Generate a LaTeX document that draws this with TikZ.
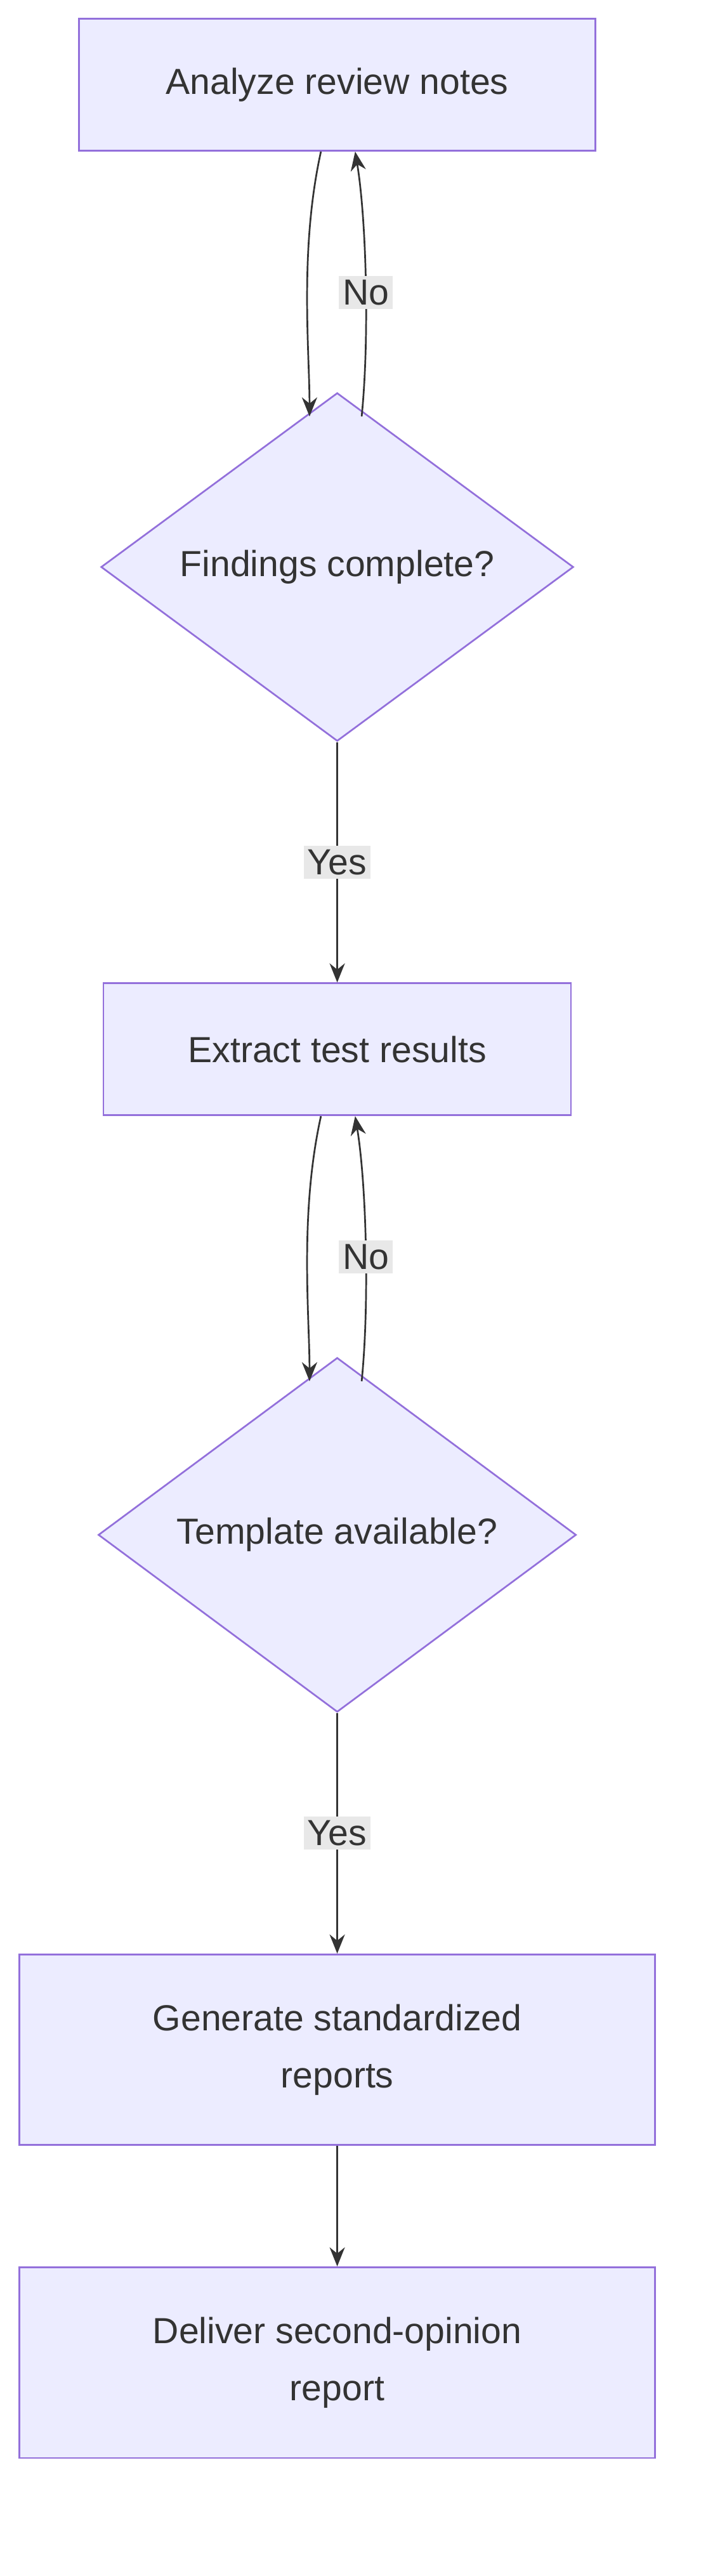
\documentclass[tikz,border=0pt]{standalone}
\usepackage{fontspec}
\setmainfont{Liberation Sans}
\usetikzlibrary{shapes.geometric,arrows.meta}
\definecolor{boxfill}{HTML}{ECECFF}
\definecolor{boxline}{HTML}{9370DB}
\definecolor{ink}{HTML}{333333}
\definecolor{lblfill}{HTML}{E8E8E8}
\tikzset{
  stepbox/.style={draw=boxline, fill=boxfill, line width=0.9pt, text=ink, align=center, font=\fontsize{19}{30}\selectfont},
  choice/.style={diamond, draw=boxline, fill=boxfill, line width=0.9pt, text=ink, aspect=1, inner sep=0pt, minimum width=8.7cm, font=\fontsize{19}{30}\selectfont},
  arr/.style={draw=ink, line width=0.9pt, -{Stealth[length=10pt,width=8pt]}},
  lbl/.style={fill=lblfill, text=ink, inner sep=2pt, font=\fontsize{19}{24}\selectfont}
}
\begin{document}
\begin{tikzpicture}[x=0.03cm,y=-0.03cm]
  \useasboundingbox (0,0) rectangle (430,1581);
  % Steps and decisions.
  \node[stepbox, minimum width=9.51cm, minimum height=2.43cm] (analyze) at (207,52) {Analyze review notes};
  \node[choice] (complete) at (207,348) {Findings complete?};
  \node[stepbox, minimum width=8.61cm, minimum height=2.43cm] (extract) at (207,644) {Extract test results};
  \node[choice, minimum width=8.8cm] (template) at (207,942) {Template available?};
  \node[stepbox, minimum width=11.7cm, minimum height=3.51cm] (generate) at (207,1258) {Generate standardized\\reports};
  \node[stepbox, minimum width=11.7cm, minimum height=3.51cm] (deliver) at (207,1450) {Deliver second-opinion\\report};
  % Loops back on No.
  \draw[arr] ([xshift=-0.3cm]analyze.south) .. controls +(-0.4cm,-1.8cm) and +(0,1.2cm) .. ([shift={(-0.51cm,-0.45cm)}]complete.north);
  \draw[arr] ([shift={(0.45cm,-0.45cm)}]complete.north) .. controls +(0.15cm,1.5cm) and +(0.2cm,-1.2cm) .. node[lbl, pos=0.45] (no1) {No} ([xshift=0.33cm]analyze.south);
  \draw[arr] ([xshift=-0.3cm]extract.south) .. controls +(-0.4cm,-1.8cm) and +(0,1.2cm) .. ([shift={(-0.51cm,-0.45cm)}]template.north);
  \draw[arr] ([shift={(0.45cm,-0.45cm)}]template.north) .. controls +(0.15cm,1.5cm) and +(0.2cm,-1.2cm) .. node[lbl, pos=0.45] (no2) {No} ([xshift=0.33cm]extract.south);
  % Forward flow.
  \draw[arr] (complete) -- node[lbl] (yes1) {Yes} (extract);
  \draw[arr] (template) -- node[lbl] (yes2) {Yes} (generate);
  \draw[arr] (generate) -- (deliver);
\end{tikzpicture}
\end{document}
